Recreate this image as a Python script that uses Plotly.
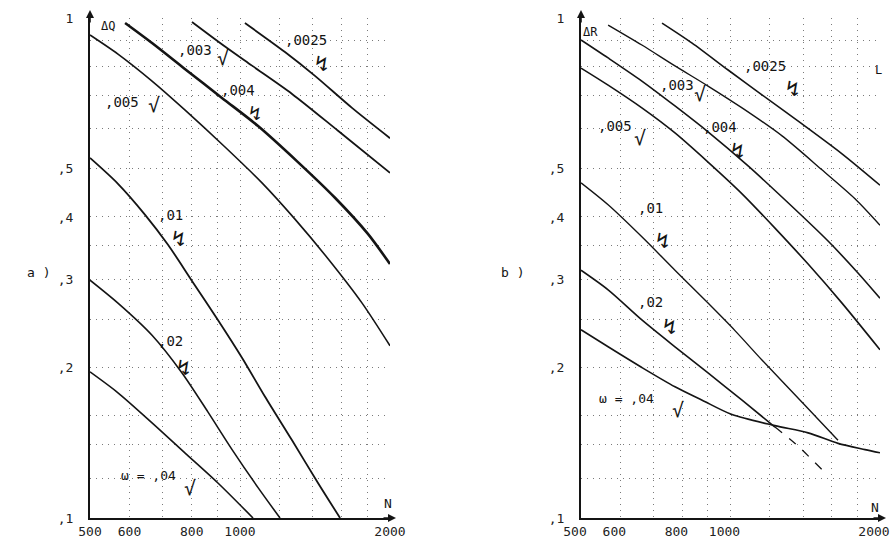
import plotly.graph_objects as go

W, H = 891, 545

# ---------------- axis ticks / grid ----------------
n_grid = [500, 600, 700, 800, 900, 1000, 1200, 1400, 1600, 1800, 2000]
n_text = ["500", "600", "", "800", "", "1000", "", "", "", "", "2000"]
v_grid = [0.1, 0.12, 0.14, 0.16, 0.2, 0.25, 0.3, 0.35, 0.4, 0.5, 0.6, 0.7, 0.8, 0.9, 1.0]
v_text = [",1", "", "", "", ",2", "", ",3", "", ",4", ",5", "", "", "", "", "1"]

# ---------------- panel a) : ΔQ vs N ----------------
a_0025_N = [1023, 1231, 1414, 1678, 2000]
a_0025_v = [0.977, 0.855, 0.766, 0.661, 0.575]
a_003_N = [801, 933, 1057, 1272, 1573, 2000]
a_003_v = [0.982, 0.877, 0.803, 0.705, 0.595, 0.490]
a_004_N = [588, 666, 775, 920, 1087, 1307, 1551, 1806, 2000]
a_004_v = [0.977, 0.891, 0.791, 0.692, 0.608, 0.515, 0.437, 0.370, 0.322]
a_005_N = [500, 569, 666, 775, 933, 1107, 1289, 1502, 1758, 2000]
a_005_v = [0.925, 0.847, 0.748, 0.655, 0.552, 0.468, 0.396, 0.330, 0.269, 0.221]
a_01_N = [500, 569, 645, 717, 801, 903, 1010, 1122, 1272, 1434, 1588]
a_01_v = [0.525, 0.466, 0.404, 0.352, 0.298, 0.249, 0.209, 0.175, 0.143, 0.1175, 0.100]
a_02_N = [500, 569, 666, 765, 862, 964, 1087, 1203]
a_02_v = [0.299, 0.269, 0.232, 0.195, 0.163, 0.137, 0.115, 0.100]
a_04_N = [500, 569, 666, 775, 903, 1062]
a_04_v = [0.196, 0.178, 0.155, 0.135, 0.1175, 0.100]

# ---------------- panel b) : ΔR vs N ----------------
b_0025_N = [728, 837, 989, 1157, 1393, 1677, 2000]
b_0025_v = [0.977, 0.891, 0.787, 0.702, 0.614, 0.535, 0.463]
b_003_N = [567, 663, 773, 901, 1055, 1270, 1528, 1781, 2000]
b_003_v = [0.968, 0.883, 0.802, 0.731, 0.661, 0.581, 0.497, 0.435, 0.385]
b_004_N = [500, 567, 663, 773, 901, 1085, 1306, 1572, 1806, 2000]
b_004_v = [0.904, 0.832, 0.748, 0.667, 0.592, 0.506, 0.427, 0.358, 0.309, 0.275]
b_005_N = [500, 567, 663, 773, 901, 1055, 1229, 1433, 1677, 2000]
b_005_v = [0.794, 0.734, 0.661, 0.589, 0.515, 0.445, 0.380, 0.322, 0.269, 0.217]
b_01_N = [500, 567, 663, 773, 901, 1021, 1157, 1412, 1646]
b_01_v = [0.468, 0.423, 0.365, 0.313, 0.269, 0.237, 0.207, 0.168, 0.143]
b_02_N = [500, 567, 663, 773, 901, 1055, 1229]
b_02_v = [0.313, 0.286, 0.249, 0.220, 0.195, 0.172, 0.152]
b_02_tail_N = [1229, 1349, 1528]
b_02_tail_v = [0.152, 0.141, 0.125]
b_04_N = [500, 567, 663, 773, 877, 1007, 1229, 1433, 1646, 1866, 2000]
b_04_v = [0.238, 0.220, 0.200, 0.183, 0.172, 0.161, 0.153, 0.148, 0.141, 0.137, 0.135]

INK = "#141414"
FONT = "DejaVu Sans Mono"

fig = go.Figure()


def add(xa, ya, N, v, width=1.6, dash="solid"):
    fig.add_trace(go.Scatter(
        x=N, y=v, mode="lines", xaxis=xa, yaxis=ya,
        line=dict(color=INK, width=width, dash=dash, shape="spline", smoothing=0.8),
        showlegend=False, hoverinfo="skip"))


add("x", "y", a_0025_N, a_0025_v, 1.8)
add("x", "y", a_003_N, a_003_v, 1.8)
add("x", "y", a_004_N, a_004_v, 2.6)
add("x", "y", a_005_N, a_005_v, 1.6)
add("x", "y", a_01_N, a_01_v, 1.8)
add("x", "y", a_02_N, a_02_v, 1.6)
add("x", "y", a_04_N, a_04_v, 1.6)

add("x2", "y2", b_0025_N, b_0025_v, 1.6)
add("x2", "y2", b_003_N, b_003_v, 1.4)
add("x2", "y2", b_004_N, b_004_v, 1.6)
add("x2", "y2", b_005_N, b_005_v, 1.6)
add("x2", "y2", b_01_N, b_01_v, 1.4)
add("x2", "y2", b_02_N, b_02_v, 1.6)
add("x2", "y2", b_02_tail_N, b_02_tail_v, 1.3, "dash")
add("x2", "y2", b_04_N, b_04_v, 1.6)


def px(x, y):
    return x / W, 1 - y / H


GRID = dict(showgrid=True, gridcolor="#7a7a7a", griddash="1px,5px", gridwidth=1)
yd = [1 - 518 / H, 1 - 18 / H]
common_x = dict(type="log", range=[2.69897, 3.30103], tickvals=n_grid, ticktext=n_text,
                showline=True, linecolor=INK, linewidth=2, ticks="", zeroline=False,
                automargin=False, ticklabeloverflow="allow",
                tickfont=dict(family=FONT, size=13, color="#222"), **GRID)
common_y = dict(type="log", range=[-1, 0], domain=yd, tickvals=v_grid, ticktext=v_text,
                showline=True, linecolor=INK, linewidth=2, ticks="", zeroline=False,
                ticklabelstandoff=12, automargin=False,
                tickfont=dict(family=FONT, size=13, color="#222"), **GRID)

fig.update_layout(
    width=W, height=H, margin=dict(l=0, r=0, t=0, b=0, pad=0, autoexpand=False),
    paper_bgcolor="white", plot_bgcolor="white",
    xaxis=dict(common_x, domain=[90 / W, 390 / W], anchor="y"),
    yaxis=dict(common_y, anchor="x"),
    xaxis2=dict(common_x, domain=[581 / W, 880 / W], anchor="y2", ticklabelshift=-6),
    yaxis2=dict(common_y, anchor="x2"),
)

labels = [
    # panel a
    (",0025", 306, 40, 14), ("↯", 321, 63, 22),
    (",003", 195, 50, 14), ("√", 223, 58, 20),
    (",004", 238, 90, 14), ("↯", 255, 113, 20),
    (",005", 122, 102, 14), ("√", 154, 105, 20),
    (",01", 170, 215, 14), ("↯", 178, 238, 22),
    (",02", 170, 341, 14), ("↯", 183, 367, 22),
    ("ω = ,04", 148, 475, 13), ("√", 190, 488, 20),
    ("ΔQ", 108, 26, 12), ("N", 388, 503, 13), ("a )", 38, 272, 13),
    # panel b
    (",0025", 765, 66, 14), ("↯", 792, 89, 22),
    (",003", 677, 85, 14), ("√", 700, 94, 20),
    (",004", 720, 127, 14), ("↯", 737, 150, 22),
    (",005", 615, 126, 14), ("√", 640, 138, 20),
    (",01", 650, 208, 14), ("↯", 662, 240, 22),
    (",02", 650, 302, 14), ("↯", 669, 326, 22),
    ("ω = ,04", 626, 398, 13), ("√", 678, 410, 20),
    ("ΔR", 590, 32, 12), ("N", 875, 507, 13), ("L", 878, 70, 12), ("b )", 512, 272, 13),
]
for t, x, y, s in labels:
    xp, yp = px(x, y)
    fig.add_annotation(text=t, x=xp, y=yp, xref="paper", yref="paper", showarrow=False,
                       xanchor="center", yanchor="middle",
                       font=dict(family=FONT, size=s, color=INK))

# axis arrowheads
for (x, y, ax, ay) in [(90, 10, 0, 14), (396, 518, -14, 0), (581, 10, 0, 14), (886, 518, -14, 0)]:
    xp, yp = px(x, y)
    fig.add_annotation(x=xp, y=yp, xref="paper", yref="paper", text="", showarrow=True,
                       ax=ax, ay=ay, axref="pixel", ayref="pixel",
                       arrowhead=2, arrowsize=1, arrowwidth=1.6, arrowcolor=INK)

fig.write_html("out.html", config={"displayModeBar": False},
               post_script="document.body.style.margin='0';document.body.style.overflow='hidden';")
